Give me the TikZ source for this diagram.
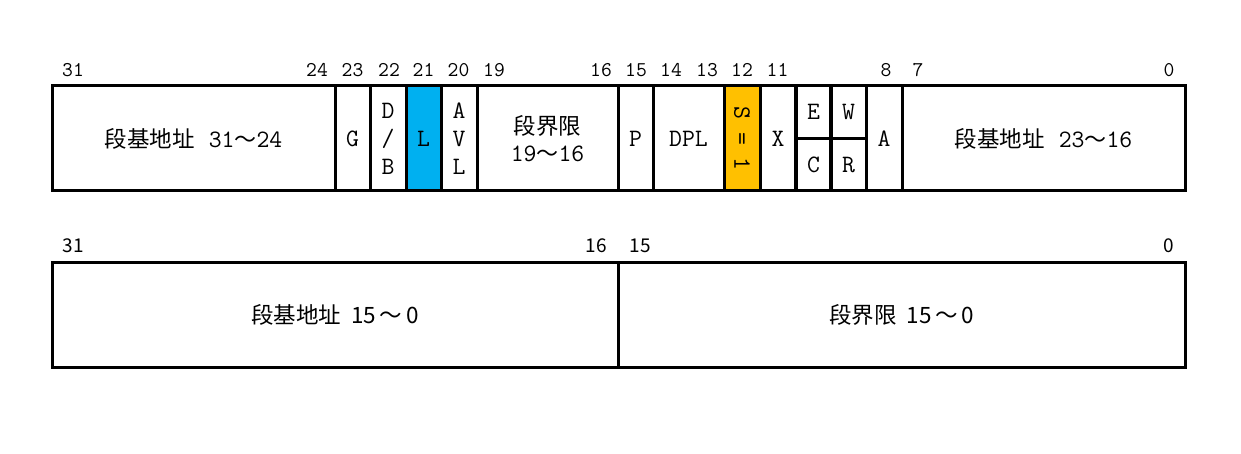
\documentclass[tikz,border=0pt]{standalone}
\usepackage{fontspec}
\newfontfamily\cjk{Noto Sans CJK SC}
\newcommand\zh[1]{{\cjk\fontsize{22.5}{22.5}\selectfont #1}}
\newcommand\tld{{\cjk\fontsize{22}{22}\selectfont ～}}
\definecolor{lblue}{RGB}{0,176,240}
\definecolor{sgold}{RGB}{255,192,0}
\tikzset{
  cell/.style={draw, line width=3pt, inner sep=0pt, outer sep=0pt, minimum height=105pt,
    align=center, font=\ttfamily\fontsize{25}{28}\selectfont},
  halfcell/.style={cell, minimum height=52.5pt, minimum width=35.5pt},
  bitnum/.style={font=\ttfamily\fontsize{21}{21}\selectfont},
  lownum/.style={font=\cjk\fontsize{19}{19}\selectfont},
}
\begin{document}
\begin{tikzpicture}[x=1pt, y=-1pt]
	\useasboundingbox (0,0) rectangle (1241,454);
	% high descriptor word
	\node [cell, minimum width=283pt] (basehi) at (193.5,138.5) {\zh{段基地址}\hspace{14pt}31\tld 24};
	\node [cell, minimum width=35pt] (g) at (352.5,138.5) {G};
	\node [cell, minimum width=36pt] (db) at (388,138.5) {D\\/\\B};
	\node [cell, minimum width=35pt, fill=lblue] (l) at (423.5,138.5) {L};
	\node [cell, minimum width=36pt] (avl) at (459,138.5) {A\\V\\L};
	\node [cell, minimum width=141pt, font=\ttfamily\fontsize{25}{27}\selectfont] (limhi) at (547.5,138.5) {\zh{段界限}\\19\tld 16};
	\node [cell, minimum width=35pt] (p) at (635.5,138.5) {P};
	\node [cell, minimum width=71pt] (dpl) at (688.5,138.5) {DPL};
	\node [cell, minimum width=36pt, fill=sgold] (s) at (742,138.5) {};
	\node [rotate=-90, font=\ttfamily\fontsize{25}{25}\selectfont] (stxt) at (s) {S = 1};
	\node [cell, minimum width=36pt] (x) at (778,138.5) {X};
	\node [halfcell] (e) at (813.5,112.25) {E};
	\node [halfcell] (c) at (813.5,164.75) {C};
	\node [halfcell] (w) at (848.5,112.25) {W};
	\node [halfcell] (r) at (848.5,164.75) {R};
	\node [cell, minimum width=36pt] (a) at (884,138.5) {A};
	\node [cell, minimum width=283pt] (basemid) at (1043.5,138.5) {\zh{段基地址}\hspace{14pt}23\tld 16};
	\foreach \xx/\lab in {73/31, 317/24, 352.5/23, 389/22, 423.5/21, 458.5/20, 494/19, 601/16,
		636/15, 671/14, 707/13, 742/12, 777.5/11, 886/8, 918/7, 1169/0}
		\node [bitnum] (hi\lab) at (\xx,70) {\lab};
	% low descriptor word
	\node [cell, minimum width=566pt, font=\cjk\fontsize{22.5}{22.5}\selectfont] (baselo) at (335,314.5) {段基地址\hspace{10pt}15\,～\,0};
	\node [cell, minimum width=567pt, font=\cjk\fontsize{22.5}{22.5}\selectfont] (limlo) at (901.5,314.5) {段界限\hspace{10pt}15\,～\,0};
	\foreach \xx/\lab in {73/31, 596/16, 640/15, 1169/0}
		\node [lownum] (lo\lab) at (\xx,246) {\lab};
\end{tikzpicture}
\end{document}
